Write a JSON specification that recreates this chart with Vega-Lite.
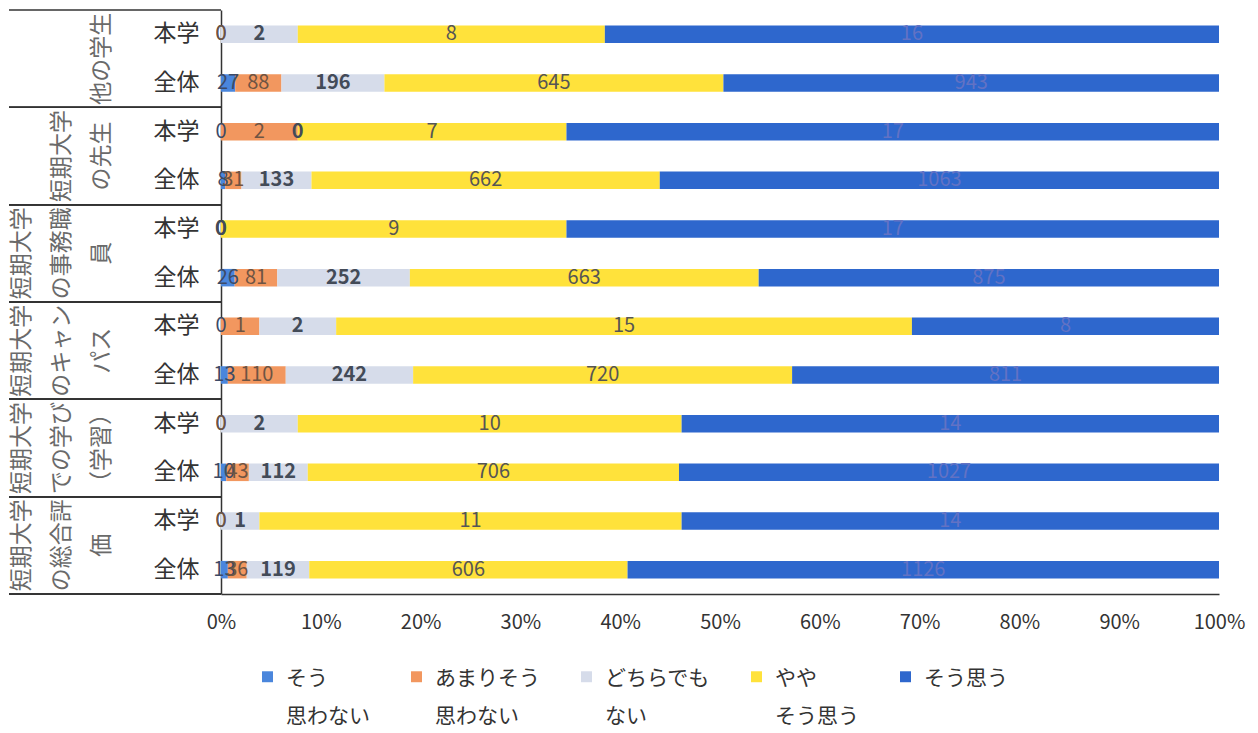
{
  "$schema": "https://vega.github.io/schema/vega-lite/v6.json",
  "padding": {"left": 8, "top": 9, "right": 12, "bottom": 0},
  "background": "white",
  "bounds": "flush",
  "spacing": 0,
  "config": {
    "font": "Noto Sans CJK JP",
    "view": {"stroke": null},
    "style": {"guide-label": {"lineHeight": 38}}
  },
  "datasets": {
    "lines": [
      {"g": "他の学生", "col": "c3", "t": "他の学生"},
      {"g": "短期大学の先生", "col": "c2", "t": "短期大学"},
      {"g": "短期大学の先生", "col": "c3", "t": "の先生"},
      {"g": "短期大学の事務職員", "col": "c1", "t": "短期大学"},
      {"g": "短期大学の事務職員", "col": "c2", "t": "の事務職"},
      {"g": "短期大学の事務職員", "col": "c3", "t": "員"},
      {"g": "短期大学のキャンパス", "col": "c1", "t": "短期大学"},
      {"g": "短期大学のキャンパス", "col": "c2", "t": "のキャン"},
      {"g": "短期大学のキャンパス", "col": "c3", "t": "パス"},
      {"g": "短期大学での学び（学習）", "col": "c1", "t": "短期大学"},
      {"g": "短期大学での学び（学習）", "col": "c2", "t": "での学び"},
      {"g": "短期大学での学び（学習）", "col": "c3", "t": "（学習）"},
      {"g": "短期大学の総合評価", "col": "c1", "t": "短期大学"},
      {"g": "短期大学の総合評価", "col": "c2", "t": "の総合評"},
      {"g": "短期大学の総合評価", "col": "c3", "t": "価"}
    ],
    "bars": [
      {"row": "他の学生・本学", "cat": "そう思わない", "k": 1, "v": 0},
      {"row": "他の学生・本学", "cat": "あまりそう思わない", "k": 2, "v": 0},
      {"row": "他の学生・本学", "cat": "どちらでもない", "k": 3, "v": 2},
      {"row": "他の学生・本学", "cat": "ややそう思う", "k": 4, "v": 8},
      {"row": "他の学生・本学", "cat": "そう思う", "k": 5, "v": 16},
      {"row": "他の学生・全体", "cat": "そう思わない", "k": 1, "v": 27},
      {"row": "他の学生・全体", "cat": "あまりそう思わない", "k": 2, "v": 88},
      {"row": "他の学生・全体", "cat": "どちらでもない", "k": 3, "v": 196},
      {"row": "他の学生・全体", "cat": "ややそう思う", "k": 4, "v": 645},
      {"row": "他の学生・全体", "cat": "そう思う", "k": 5, "v": 943},
      {"row": "先生・本学", "cat": "そう思わない", "k": 1, "v": 0},
      {"row": "先生・本学", "cat": "あまりそう思わない", "k": 2, "v": 2},
      {"row": "先生・本学", "cat": "どちらでもない", "k": 3, "v": 0},
      {"row": "先生・本学", "cat": "ややそう思う", "k": 4, "v": 7},
      {"row": "先生・本学", "cat": "そう思う", "k": 5, "v": 17},
      {"row": "先生・全体", "cat": "そう思わない", "k": 1, "v": 8},
      {"row": "先生・全体", "cat": "あまりそう思わない", "k": 2, "v": 31},
      {"row": "先生・全体", "cat": "どちらでもない", "k": 3, "v": 133},
      {"row": "先生・全体", "cat": "ややそう思う", "k": 4, "v": 662},
      {"row": "先生・全体", "cat": "そう思う", "k": 5, "v": 1063},
      {"row": "事務職員・本学", "cat": "そう思わない", "k": 1, "v": 0},
      {"row": "事務職員・本学", "cat": "あまりそう思わない", "k": 2, "v": 0},
      {"row": "事務職員・本学", "cat": "どちらでもない", "k": 3, "v": 0},
      {"row": "事務職員・本学", "cat": "ややそう思う", "k": 4, "v": 9},
      {"row": "事務職員・本学", "cat": "そう思う", "k": 5, "v": 17},
      {"row": "事務職員・全体", "cat": "そう思わない", "k": 1, "v": 26},
      {"row": "事務職員・全体", "cat": "あまりそう思わない", "k": 2, "v": 81},
      {"row": "事務職員・全体", "cat": "どちらでもない", "k": 3, "v": 252},
      {"row": "事務職員・全体", "cat": "ややそう思う", "k": 4, "v": 663},
      {"row": "事務職員・全体", "cat": "そう思う", "k": 5, "v": 875},
      {"row": "キャンパス・本学", "cat": "そう思わない", "k": 1, "v": 0},
      {"row": "キャンパス・本学", "cat": "あまりそう思わない", "k": 2, "v": 1},
      {"row": "キャンパス・本学", "cat": "どちらでもない", "k": 3, "v": 2},
      {"row": "キャンパス・本学", "cat": "ややそう思う", "k": 4, "v": 15},
      {"row": "キャンパス・本学", "cat": "そう思う", "k": 5, "v": 8},
      {"row": "キャンパス・全体", "cat": "そう思わない", "k": 1, "v": 13},
      {"row": "キャンパス・全体", "cat": "あまりそう思わない", "k": 2, "v": 110},
      {"row": "キャンパス・全体", "cat": "どちらでもない", "k": 3, "v": 242},
      {"row": "キャンパス・全体", "cat": "ややそう思う", "k": 4, "v": 720},
      {"row": "キャンパス・全体", "cat": "そう思う", "k": 5, "v": 811},
      {"row": "学び・本学", "cat": "そう思わない", "k": 1, "v": 0},
      {"row": "学び・本学", "cat": "あまりそう思わない", "k": 2, "v": 0},
      {"row": "学び・本学", "cat": "どちらでもない", "k": 3, "v": 2},
      {"row": "学び・本学", "cat": "ややそう思う", "k": 4, "v": 10},
      {"row": "学び・本学", "cat": "そう思う", "k": 5, "v": 14},
      {"row": "学び・全体", "cat": "そう思わない", "k": 1, "v": 10},
      {"row": "学び・全体", "cat": "あまりそう思わない", "k": 2, "v": 43},
      {"row": "学び・全体", "cat": "どちらでもない", "k": 3, "v": 112},
      {"row": "学び・全体", "cat": "ややそう思う", "k": 4, "v": 706},
      {"row": "学び・全体", "cat": "そう思う", "k": 5, "v": 1027},
      {"row": "総合評価・本学", "cat": "そう思わない", "k": 1, "v": 0},
      {"row": "総合評価・本学", "cat": "あまりそう思わない", "k": 2, "v": 0},
      {"row": "総合評価・本学", "cat": "どちらでもない", "k": 3, "v": 1},
      {"row": "総合評価・本学", "cat": "ややそう思う", "k": 4, "v": 11},
      {"row": "総合評価・本学", "cat": "そう思う", "k": 5, "v": 14},
      {"row": "総合評価・全体", "cat": "そう思わない", "k": 1, "v": 13},
      {"row": "総合評価・全体", "cat": "あまりそう思わない", "k": 2, "v": 36},
      {"row": "総合評価・全体", "cat": "どちらでもない", "k": 3, "v": 119},
      {"row": "総合評価・全体", "cat": "ややそう思う", "k": 4, "v": 606},
      {"row": "総合評価・全体", "cat": "そう思う", "k": 5, "v": 1126}
    ]
  },
  "hconcat": [
    {
      "width": 212,
      "height": 584,
      "data": {"name": "lines"},
      "layer": [
        {
          "mark": {"type": "rule", "color": "#333333", "strokeWidth": 1.5},
          "encoding": {
            "y": {"field": "g", "type": "nominal", "bandPosition": 0,
              "scale": {"domain": ["他の学生", "短期大学の先生", "短期大学の事務職員", "短期大学のキャンパス", "短期大学での学び（学習）", "短期大学の総合評価"], "paddingInner": 0, "paddingOuter": 0},
              "axis": null}
          }
        },
        {
          "mark": {"type": "rule", "color": "#333333", "strokeWidth": 1.5},
          "encoding": {
            "y": {"field": "g", "type": "nominal", "bandPosition": 1, "axis": null}
          }
        },
        {
          "mark": {"type": "text", "angle": 270, "fontSize": 23, "color": "#6a6a6a", "align": "center", "baseline": "middle"},
          "encoding": {
            "y": {"field": "g", "type": "nominal", "axis": null},
            "x": {"field": "col", "type": "nominal", "scale": {"type": "point", "domain": ["c1", "c2", "c3"], "range": [13, 93], "padding": 0}, "axis": null},
            "text": {"field": "t"}
          }
        }
      ]
    },
    {
      "width": 998,
      "height": 584,
      "data": {"name": "bars"},
      "encoding": {
        "y": {"field": "row", "type": "nominal",
          "scale": {"domain": ["他の学生・本学", "他の学生・全体", "先生・本学", "先生・全体", "事務職員・本学", "事務職員・全体", "キャンパス・本学", "キャンパス・全体", "学び・本学", "学び・全体", "総合評価・本学", "総合評価・全体"], "paddingInner": 0.64, "paddingOuter": 0.32},
          "axis": {"title": null, "ticks": false, "labelExpr": "slice(datum.label, -2)", "labelFontSize": 23, "labelColor": "#333333", "labelPadding": 22, "domainColor": "#333333", "domainWidth": 1.5, "grid": false}
        }
      },
      "layer": [
        {
          "mark": {"type": "bar"},
          "encoding": {
            "x": {"field": "v", "type": "quantitative", "stack": "normalize",
              "scale": {"domain": [0, 1], "nice": false},
              "axis": {"values": [0, 0.1, 0.2, 0.3, 0.4, 0.5, 0.6, 0.7, 0.8, 0.9, 1], "format": ".0%", "ticks": false, "grid": false, "labelFontSize": 20, "labelColor": "#333333", "labelPadding": 18, "title": null, "domainColor": "#333333", "domainWidth": 1.5, "labelFlush": false}},
            "order": {"field": "k", "type": "quantitative"},
            "color": {"field": "cat", "type": "nominal",
              "scale": {"domain": ["そう思わない", "あまりそう思わない", "どちらでもない", "ややそう思う", "そう思う"], "range": ["#4a86dc", "#f2975f", "#d6dcea", "#ffe23b", "#2e67cd"]},
              "legend": {"orient": "none", "legendX": 248, "legendY": 656, "direction": "horizontal", "columns": 5, "title": null, "symbolType": "square", "symbolSize": 120, "symbolStrokeWidth": 0, "labelFontSize": 21, "labelColor": "#333333", "columnPadding": 36, "labelOffset": 8, "labelLimit": 300, "labelBaseline": "top",
                "encode": {"labels": {"update": {"dy": {"value": -9}}}},
                "labelExpr": "datum.label == 'そう思わない' ? ['そう', '思わない'] : datum.label == 'あまりそう思わない' ? ['あまりそう', '思わない'] : datum.label == 'どちらでもない' ? ['どちらでも', 'ない'] : datum.label == 'ややそう思う' ? ['やや', 'そう思う'] : [datum.label, '']"}}
          }
        },
        {
          "mark": {"type": "text", "fontSize": 20},
          "encoding": {
            "x": {"field": "v", "type": "quantitative", "stack": "normalize", "bandPosition": 0.5},
            "order": {"field": "k", "type": "quantitative"},
            "detail": {"field": "cat", "type": "nominal"},
            "text": {"field": "v", "type": "quantitative"},
            "color": {"condition": [
              {"test": "datum.cat === 'そう思わない'", "value": "#3d4a66"},
              {"test": "datum.cat === 'あまりそう思わない'", "value": "#6e5443"},
              {"test": "datum.cat === 'どちらでもない'", "value": "rgba(0,0,0,0)"},
              {"test": "datum.cat === 'ややそう思う'", "value": "#555555"}
            ], "value": "#6272c4"}
          }
        },
        {
          "mark": {"type": "text", "fontSize": 20, "fontWeight": "bold", "color": "#434b58"},
          "encoding": {
            "x": {"field": "v", "type": "quantitative", "stack": "normalize", "bandPosition": 0.5},
            "order": {"field": "k", "type": "quantitative"},
            "detail": {"field": "cat", "type": "nominal"},
            "text": {"field": "v", "type": "quantitative"},
            "opacity": {"condition": {"test": "datum.cat === 'どちらでもない'", "value": 1}, "value": 0}
          }
        }
      ]
    }
  ]
}
